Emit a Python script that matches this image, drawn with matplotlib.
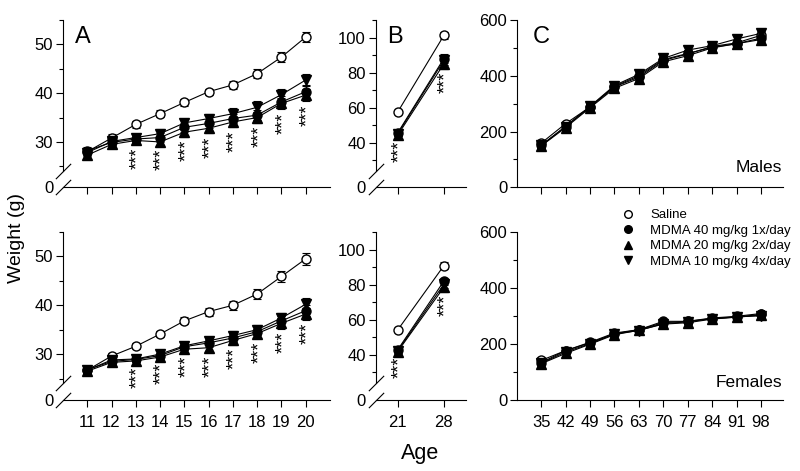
import numpy as np
import matplotlib
matplotlib.use('Agg')
import matplotlib.pyplot as plt
from matplotlib.path import Path
from matplotlib.lines import Line2D
from matplotlib.transforms import offset_copy

plt.rcParams['font.family'] = ['Liberation Sans', 'DejaVu Sans']

# *** Dane: srednie i SEM ***
group_names = ['Saline', 'MDMA 40 mg/kg 1x/day', 'MDMA 20 mg/kg 2x/day', 'MDMA 10 mg/kg 4x/day']

days_a = [11, 12, 13, 14, 15, 16, 17, 18, 19, 20]
days_b = [21, 28]
days_c = [35, 42, 49, 56, 63, 70, 77, 84, 91, 98]

# Panel A - samce
a_m_sal = [28.0, 30.8, 33.6, 35.8, 38.1, 40.3, 41.7, 44.0, 47.4, 51.5]
a_m_40 = [28.2, 29.9, 30.6, 30.9, 33.0, 33.8, 34.8, 35.5, 38.2, 40.3]
a_m_20 = [27.3, 29.5, 30.3, 30.0, 32.0, 32.8, 34.1, 35.0, 37.9, 39.6]
a_m_10 = [27.8, 30.1, 30.9, 31.7, 33.9, 34.8, 35.8, 37.1, 39.7, 42.7]
a_m_sal_se = [0.6, 0.9, 0.7, 0.7, 0.7, 0.6, 0.8, 0.9, 1.0, 1.1]
a_m_40_se = [0.7, 0.8, 0.8, 0.9, 0.9, 1.0, 1.0, 1.0, 1.2, 1.3]
a_m_20_se = [0.6, 0.7, 0.8, 0.8, 0.9, 1.0, 1.1, 1.1, 1.2, 1.3]
a_m_10_se = [0.6, 0.8, 0.8, 0.9, 0.9, 1.0, 1.1, 1.2, 1.2, 1.2]

# Panel A - samice
a_f_sal = [26.7, 29.6, 31.6, 34.1, 36.8, 38.7, 40.0, 42.3, 45.9, 49.5]
a_f_40 = [26.8, 28.5, 28.9, 29.7, 31.5, 32.3, 33.3, 34.6, 36.8, 38.9]
a_f_20 = [26.5, 28.3, 28.6, 29.4, 31.0, 31.3, 32.8, 34.2, 36.3, 38.2]
a_f_10 = [26.7, 28.8, 29.0, 30.0, 31.7, 32.7, 33.8, 35.0, 37.4, 40.2]
a_f_sal_se = [0.5, 0.6, 0.6, 0.7, 0.7, 0.8, 0.9, 1.1, 1.1, 1.3]
a_f_40_se = [0.5, 0.6, 0.6, 0.6, 0.7, 0.8, 0.9, 1.0, 1.1, 1.2]
a_f_20_se = [0.5, 0.6, 0.6, 0.6, 0.7, 0.9, 0.9, 1.0, 1.1, 1.2]
a_f_10_se = [0.5, 0.6, 0.6, 0.7, 0.7, 0.8, 0.9, 1.0, 1.1, 1.2]

# Panel B
b_m_sal = [57.4, 101.2]
b_m_40 = [45.5, 88.0]
b_m_20 = [44.2, 85.0]
b_m_10 = [45.0, 87.0]
b_m_se = [[1.2, 1.8], [1.5, 2.5], [1.5, 3.0], [1.5, 2.8]]
b_f_sal = [54.1, 90.8]
b_f_40 = [42.8, 82.0]
b_f_20 = [41.8, 78.5]
b_f_10 = [42.3, 80.2]
b_f_se = [[1.0, 2.0], [1.2, 2.0], [1.2, 2.5], [1.2, 2.2]]

# Panel C
c_m_sal = [158, 228, 288, 360, 395, 455, 478, 505, 518, 545]
c_m_40 = [150, 218, 288, 362, 400, 458, 480, 502, 515, 535]
c_m_20 = [148, 214, 285, 355, 390, 450, 472, 500, 515, 530]
c_m_10 = [150, 218, 290, 365, 405, 462, 492, 508, 532, 552]
c_m_se = [8, 8, 8, 10, 12, 12, 12, 12, 12, 14]
c_f_sal = [140, 175, 203, 235, 250, 275, 280, 290, 295, 305]
c_f_40 = [132, 175, 205, 238, 250, 280, 280, 292, 298, 308]
c_f_20 = [128, 165, 198, 232, 248, 270, 275, 288, 295, 302]
c_f_10 = [130, 170, 200, 235, 247, 272, 278, 290, 296, 300]
c_f_se = [14, 8, 7, 7, 7, 8, 8, 8, 8, 9]

star_days_a = [13, 14, 15, 16, 17, 18, 19, 20]
star_days_b = [21, 28]

W, H = 800, 471
STYLES = [('o', 'white'), ('o', 'black'), ('^', 'black'), ('v', 'black')]


def px_box(x0, y0, x1, y1):  # pozycja osi w pikselach -> ulamki figury
    return [x0 / W, 1 - y1 / H, (x1 - x0) / W, (y1 - y0) / H]


def style_axes(ax, xticks, xlim, labels):
    ax.spines['top'].set_visible(False)
    ax.spines['right'].set_visible(False)
    ax.set_xlim(*xlim)
    ax.set_xticks(xticks)
    ax.tick_params(axis='x', length=5, width=0.8, pad=6, labelsize=12, labelbottom=labels)
    ax.tick_params(axis='y', which='major', length=5, width=0.8, pad=2, labelsize=12)
    ax.tick_params(axis='y', which='minor', length=3, width=0.8)
    for s in ('left', 'bottom'):
        ax.spines[s].set_linewidth(0.8)


def broken_y(ax, lo, zero_at, top, spine_lo, major, minor):  # przerwana os Y
    s = (lo - zero_at) / lo

    def fwd(y):
        y = np.asarray(y, float)
        return np.where(y >= lo, y, lo - (lo - y) * s)

    def inv(v):
        v = np.asarray(v, float)
        return np.where(v >= lo, v, lo - (lo - v) / s)

    ax.set_yscale('function', functions=(fwd, inv))
    ax.set_ylim(0, top)
    ax.set_yticks(major)
    ax.set_yticks(minor, minor=True)
    ax.set_yticklabels([str(v) for v in major])
    ax.spines['left'].set_bounds(spine_lo, top)
    ax.yaxis.get_major_ticks()[0].tick1line.set_visible(False)
    slash = Path([(-1, -1), (1, 1)])
    x0 = ax.get_xlim()[0]
    ax.plot([x0, x0], [spine_lo, 0], ls='none', marker=slash, ms=11,
            mec='black', mew=0.8, clip_on=False)


def draw_groups(ax, x, means, sems):
    for (mk, fc), m, se in zip(STYLES, means, sems):
        ax.errorbar(x, m, yerr=se, fmt='-', marker=mk, mfc=fc, mec='black',
                    color='black', lw=0.8, ms=6.5, elinewidth=0.8, capsize=3,
                    capthick=0.8, clip_on=False)


def add_stars(fig, ax, x, means, sems, days):
    low = np.min([np.array(m) - np.array(se) for m, se in zip(means[1:], sems[1:])], axis=0)
    trans = offset_copy(ax.transData, fig=fig, x=2, y=-3, units='dots')
    for xi, yi in zip(x, low):
        if xi in days:
            ax.text(xi, yi, '***', rotation=90, ha='center', va='top',
                    fontsize=13, transform=trans)


fig = plt.figure(figsize=(8, 4.71), dpi=100)

rows = [
    (20, 187.3, [a_m_sal, a_m_40, a_m_20, a_m_10], [a_m_sal_se, a_m_40_se, a_m_20_se, a_m_10_se],
     [b_m_sal, b_m_40, b_m_20, b_m_10], b_m_se,
     [c_m_sal, c_m_40, c_m_20, c_m_10], c_m_se, False),
    (232, 399.5, [a_f_sal, a_f_40, a_f_20, a_f_10], [a_f_sal_se, a_f_40_se, a_f_20_se, a_f_10_se],
     [b_f_sal, b_f_40, b_f_20, b_f_10], b_f_se,
     [c_f_sal, c_f_40, c_f_20, c_f_10], c_f_se, True),
]

for y0, y1, a_means, a_sems, b_means, b_sems, c_means, c_se, labels in rows:
    # Panel A
    ax = fig.add_axes(px_box(63, y0, 330, y1))
    style_axes(ax, days_a, (10, 21), labels)
    broken_y(ax, 22, 20.7, 55, 24, [0, 30, 40, 50], [25, 35, 45, 55])
    draw_groups(ax, days_a, a_means, a_sems)
    add_stars(fig, ax, days_a, a_means, a_sems, star_days_a)

    # Panel B
    ax = fig.add_axes(px_box(375.5, y0, 466, y1))
    style_axes(ax, days_b, (17.65, 31.35), labels)
    broken_y(ax, 20, 14.5, 110, 24, [0, 40, 60, 80, 100], [30, 50, 70, 90, 110])
    draw_groups(ax, days_b, b_means, b_sems)
    add_stars(fig, ax, days_b, b_means, b_sems, star_days_b)

    # Panel C
    ax = fig.add_axes(px_box(517, y0, 783, y1))
    style_axes(ax, days_c, (28.1, 104.3), labels)
    ax.set_ylim(0, 600)
    ax.set_yticks([0, 200, 400, 600])
    ax.set_yticks([100, 300, 500], minor=True)
    draw_groups(ax, days_c, c_means, [c_se] * 4)

# Opisy paneli i osi
for letter, xp in (('A', 75), ('B', 387), ('C', 533)):
    fig.text(xp / W, 1 - 43 / H, letter, fontsize=17, va='baseline')
fig.text(782 / W, 1 - 172 / H, 'Males', ha='right', va='baseline', fontsize=12.5)
fig.text(782 / W, 1 - 386.7 / H, 'Females', ha='right', va='baseline', fontsize=12.5)
fig.text(420 / W, 1 - 459 / H, 'Age', ha='center', va='baseline', fontsize=15.5)
fig.text(17 / W, 1 - 238 / H, 'Weight (g)', rotation=90, ha='center', va='center', fontsize=14)

# Legenda
handles = [Line2D([], [], ls='none', marker=mk, mfc=fc, mec='black', ms=5.5) for mk, fc in STYLES]
fig.legend(handles, group_names, loc='upper left', bbox_to_anchor=(621 / W, 1 - 209 / H),
           frameon=False, handlelength=1, handletextpad=1.2, labelspacing=0.25,
           borderpad=0, borderaxespad=0, fontsize=9.5)

fig.savefig('out.png', dpi=100)
